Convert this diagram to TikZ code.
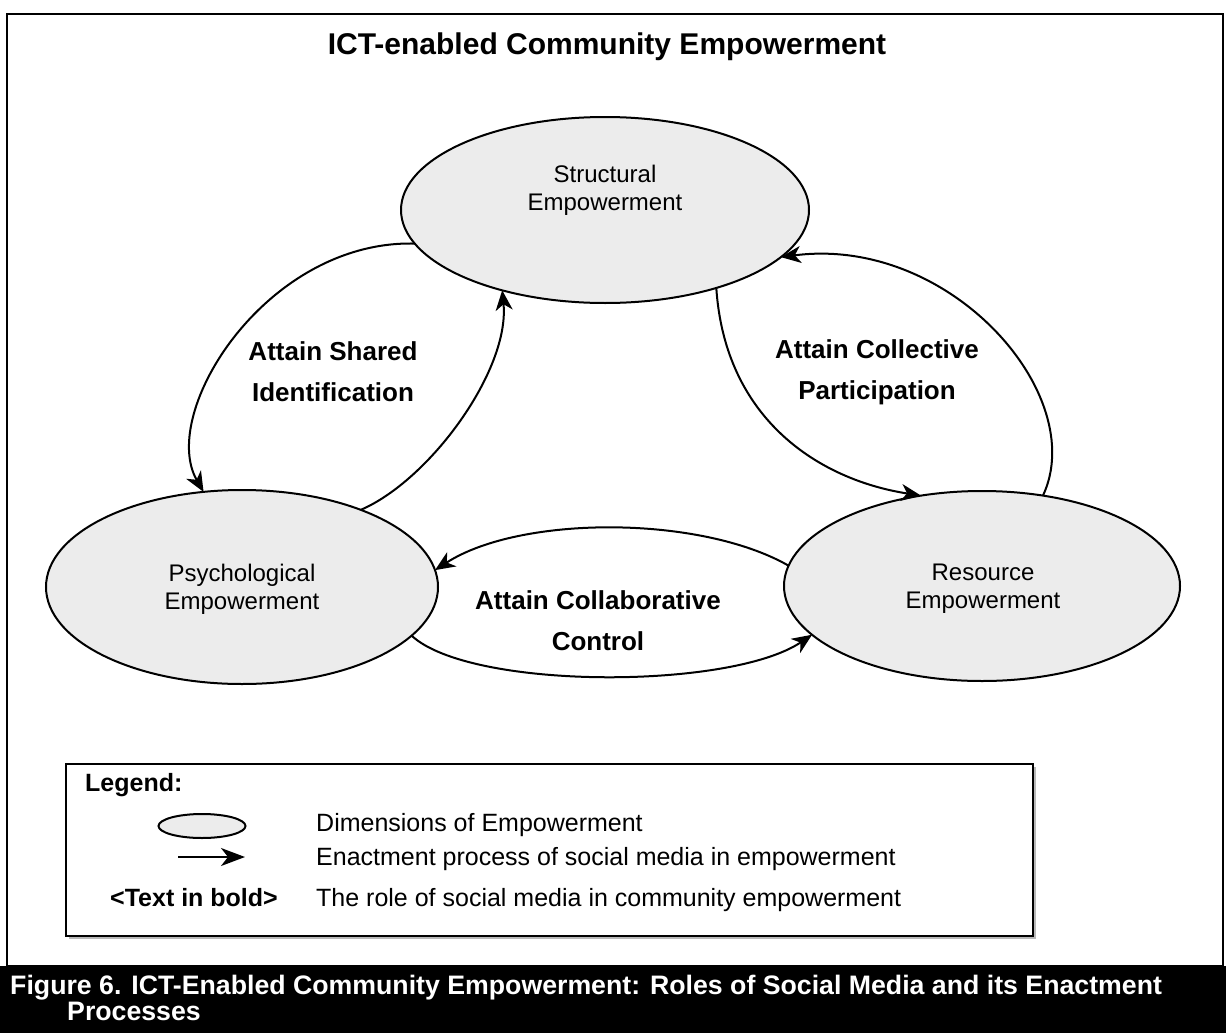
\documentclass[tikz,border=0pt]{standalone}
\usepackage{fontspec}
\setmainfont{Liberation Sans}
\usetikzlibrary{arrows.meta,shapes.geometric}
\begin{document}
\begin{tikzpicture}[x=1pt,y=-1pt,
  dim/.style={ellipse, draw, line width=2pt, fill=gray!15, inner sep=0pt, outer sep=0pt},
  etext/.style={align=center, font=\fontsize{24}{28}\selectfont, inner sep=0pt},
  lbl/.style={align=center, font=\bfseries\fontsize{26}{41}\selectfont, inner sep=0pt},
  flow/.style={line width=2pt, -{Stealth[length=20pt,width=17pt,inset=6pt]}},
  legtext/.style={anchor=base west, font=\fontsize{25}{28}\selectfont, inner sep=0pt},
  capt/.style={anchor=base west, text=white, font=\bfseries\fontsize{26.7}{30}\selectfont, inner sep=0pt}
]
\useasboundingbox (0,0) rectangle (1226,1033);
% frame
\draw[line width=2.5pt] (7,14) rectangle (1223,966);
% title
\node[anchor=base, font=\bfseries\fontsize{30}{34}\selectfont, inner sep=0pt] (title) at (607,55) {ICT-enabled Community Empowerment};
% dimensions
\node[dim, minimum width=408pt, minimum height=186pt] (S) at (605,210) {};
\node[dim, minimum width=392pt, minimum height=194pt] (P) at (242,587) {};
\node[dim, minimum width=396pt, minimum height=190pt] (R) at (982,586) {};
\node[etext] (St) at (605,190) {Structural\\Empowerment};
\node[etext] (Pt) at (242,589) {Psychological\\Empowerment};
\node[etext] (Rt) at (983,589) {Resource\\Empowerment};
% processes
\draw[flow] (S.190.5) .. controls (266,240) and (158,413) .. (P.112);
\draw[flow] (P.33) .. controls (430,480) and (510,370) .. (S.218);
\draw[flow] (S.325) .. controls (725,420) and (820,480) .. (R.124.5);
\draw[flow] (R.56) .. controls (1090,395) and (950,235) .. (S.345);
\draw[flow] (R.174) .. controls (700,515) and (520,515) .. (P.5);
\draw[flow] (P.344.5) .. controls (470,690) and (730,690) .. (R.196);
% roles
\node[lbl] (si) at (333,372) {Attain Shared\\Identification};
\node[lbl] (cp) at (877,372) {Attain Collective\\Participation};
\node[lbl] (cc) at (598,621) {Attain Collaborative\\Control};
% legend
\fill[gray!55] (68.5,766.5) rectangle (1035.5,938.5);
\node[draw, fill=white, line width=1.2pt, anchor=north west, minimum width=967pt, minimum height=172pt, inner sep=0pt, outer sep=0pt] (leg) at (66,764) {};
\node[anchor=base west, font=\bfseries\fontsize{25}{28}\selectfont, inner sep=0pt] (legt) at (85,791) {Legend:};
\node[ellipse, draw, fill=gray!15, line width=2pt, minimum width=87pt, minimum height=24pt, inner sep=0pt] (le) at (202,826) {};
\coordinate (la1) at (178,857);
\coordinate (la2) at (245,857);
\draw[line width=2pt, -{Stealth[length=24pt,width=18pt,inset=7pt]}] (la1) -- (la2);
\node[anchor=base, font=\bfseries\fontsize{25}{28}\selectfont, inner sep=0pt] (lb) at (194,906) {<Text in bold>};
\node[legtext] (l1) at (316,831) {Dimensions of Empowerment};
\node[legtext] (l2) at (316,865) {Enactment process of social media in empowerment};
\node[legtext] (l3) at (316,906) {The role of social media in community empowerment};
% caption bar
\node[fill=black, anchor=north west, minimum width=1226pt, minimum height=67pt, inner sep=0pt, outer sep=0pt] (bar) at (0,966) {};
\node[capt] (cap1) at (10,994) {Figure 6. ICT-Enabled Community Empowerment: Roles of Social Media and its Enactment};
\node[capt] (cap2) at (67,1020) {Processes};
\end{tikzpicture}
\end{document}
